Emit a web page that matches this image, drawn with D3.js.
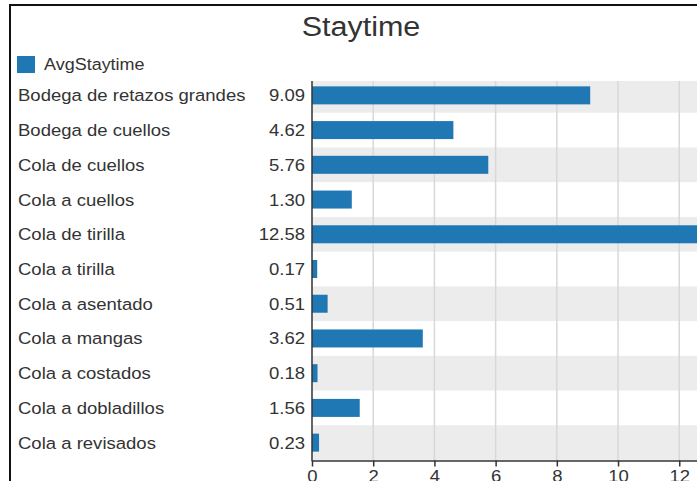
<!DOCTYPE html>
<html>
<head>
<meta charset="utf-8">
<script src="https://cdn.jsdelivr.net/npm/d3@7/dist/d3.min.js"></script>
<style>
  html, body { margin: 0; padding: 0; background: #fff; overflow: hidden; }
  svg { display: block; font-family: "Liberation Sans", Arial, sans-serif; }
</style>
</head>
<body>
<svg id="chart" width="697" height="481"></svg>
<script>
// Average stay time per station
const categories = [
  "Bodega de retazos grandes",
  "Bodega de cuellos",
  "Cola de cuellos",
  "Cola a cuellos",
  "Cola de tirilla",
  "Cola a tirilla",
  "Cola a asentado",
  "Cola a mangas",
  "Cola a costados",
  "Cola a dobladillos",
  "Cola a revisados"
];
const avgStaytime = [9.09, 4.62, 5.76, 1.30, 12.58, 0.17, 0.51, 3.62, 0.18, 1.56, 0.23];
const xTicks = [0, 2, 4, 6, 8, 10, 12];
const seriesName = "AvgStaytime";
const chartTitle = "Staytime";

const W = 697, H = 481;
const svg = d3.select("#chart");
const textColor = "#333";
const barColor = "#1f77b4";
const stretch = 1.09; // slightly wide lettering

// Places a text at (x, y) with the horizontal stretch applied around its anchor
function placeText(sel, x, y) {
  return sel.attr("transform", (d, i) => {
    const xx = typeof x === "function" ? x(d, i) : x;
    const yy = typeof y === "function" ? y(d, i) : y;
    return `translate(${xx},${yy}) scale(${stretch},1)`;
  });
}

// Outer frame
svg.append("rect")
  .attr("x", 10).attr("y", 5)
  .attr("width", W + 20).attr("height", H + 20)
  .attr("fill", "none").attr("stroke", "#111").attr("stroke-width", 2);

// Title
svg.append("text")
  .call(placeText, 361, 36)
  .attr("text-anchor", "middle")
  .attr("font-size", 28)
  .attr("fill", textColor)
  .text(chartTitle);

// Legend
svg.append("rect")
  .attr("x", 17).attr("y", 56).attr("width", 18).attr("height", 17)
  .attr("fill", barColor);
svg.append("text")
  .call(placeText, 44, 70)
  .attr("font-size", 16.5)
  .attr("fill", textColor)
  .text(seriesName);

// Plot geometry
const plotLeft = 312, plotRight = 697, plotTop = 81, plotBottom = 460.5;

const x = d3.scaleLinear()
  .domain([0, d3.max(avgStaytime)])
  .range([plotLeft, plotRight]);

const y = d3.scaleBand()
  .domain(categories)
  .range([78, 460])
  .paddingInner(0)
  .paddingOuter(0);

const rows = categories.map((c, i) => ({ name: c, value: avgStaytime[i], i }));

svg.append("clipPath").attr("id", "plot-clip")
  .append("rect")
  .attr("x", plotLeft).attr("y", plotTop)
  .attr("width", plotRight - plotLeft).attr("height", plotBottom - plotTop);

const plot = svg.append("g").attr("clip-path", "url(#plot-clip)");

// Alternating row bands
plot.selectAll("rect.band")
  .data(rows.filter(d => d.i % 2 === 0))
  .join("rect")
  .attr("class", "band")
  .attr("x", plotLeft)
  .attr("y", d => y(d.name))
  .attr("width", plotRight - plotLeft)
  .attr("height", y.bandwidth())
  .attr("fill", "#ececec");

// Vertical gridlines
plot.selectAll("line.grid")
  .data(xTicks.filter(t => t > 0))
  .join("line")
  .attr("class", "grid")
  .attr("x1", d => x(d)).attr("x2", d => x(d))
  .attr("y1", plotTop).attr("y2", plotBottom)
  .attr("stroke", "#d8d8d8")
  .attr("stroke-width", 1.5);

// Bars
const barH = 18;
plot.selectAll("rect.bar")
  .data(rows)
  .join("rect")
  .attr("class", "bar")
  .attr("x", x(0))
  .attr("y", d => y(d.name) + y.bandwidth() / 2 - barH / 2)
  .attr("width", d => x(d.value) - x(0))
  .attr("height", barH)
  .attr("fill", barColor);

// Category labels
svg.selectAll("text.cat")
  .data(rows)
  .join("text")
  .attr("class", "cat")
  .call(placeText, 18, d => y(d.name) + y.bandwidth() / 2)
  .attr("dy", "0.35em")
  .attr("font-size", 17)
  .attr("fill", textColor)
  .text(d => d.name);

// Value labels
svg.selectAll("text.val")
  .data(rows)
  .join("text")
  .attr("class", "val")
  .call(placeText, 305, d => y(d.name) + y.bandwidth() / 2)
  .attr("dy", "0.35em")
  .attr("text-anchor", "end")
  .attr("font-size", 17)
  .attr("fill", textColor)
  .text(d => d3.format(".2f")(d.value));

// X axis
const xAxis = svg.append("g")
  .attr("transform", `translate(0,${plotBottom})`)
  .call(d3.axisBottom(x).tickValues(xTicks).tickSize(6).tickSizeOuter(0).tickPadding(3));
xAxis.select(".domain").attr("stroke", "#333").attr("stroke-width", 1.5);
xAxis.selectAll(".tick line").attr("stroke", "#333").attr("stroke-width", 1.5);
xAxis.selectAll(".tick text")
  .attr("font-size", 17)
  .attr("font-family", "'Liberation Sans', Arial, sans-serif")
  .attr("fill", textColor)
  .attr("transform", `scale(${stretch},1)`)
  .attr("x", d => 0);

// Y axis line
svg.append("line")
  .attr("x1", plotLeft).attr("x2", plotLeft)
  .attr("y1", plotTop).attr("y2", plotBottom + 0.75)
  .attr("stroke", "#333").attr("stroke-width", 1.5);
</script>
</body>
</html>
